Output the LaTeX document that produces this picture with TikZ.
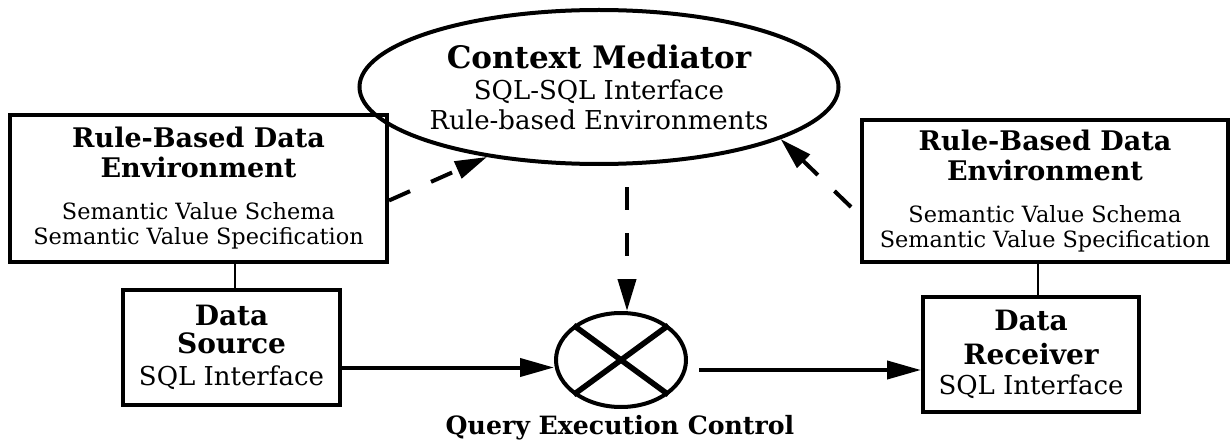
\documentclass[tikz,border=0pt]{standalone}
\usepackage{fontspec}
\setmainfont{DejaVu Serif}
\usetikzlibrary{shapes.geometric,arrows.meta}

\newcommand{\hd}[1]{{\fontsize{13.5}{12.5}\selectfont\bfseries #1}}
\newcommand{\iohd}[1]{{\fontsize{14}{13}\selectfont\bfseries #1}}

\begin{document}
\begin{tikzpicture}[x=0.5pt, y=-0.5pt,
    envbox/.style={draw, line width=2pt, rectangle, align=center, inner sep=0pt,
        font=\fontsize{11.2}{12.5}\selectfont},
    iobox/.style={draw, line width=2pt, rectangle, align=center, inner sep=0pt,
        font=\fontsize{13}{13}\selectfont},
    flow/.style={line width=2pt, -{Triangle[length=17pt,width=9pt]}},
    ctrl/.style={line width=2pt, dash pattern=on 11.5pt off 11.5pt,
        -{Triangle[length=16pt,width=9pt]}},
    link/.style={line width=1.2pt}]
	% fixed frame of the page
	\useasboundingbox (0,0) rectangle (1231,444);

	% mediator on top
	\node[ellipse, draw, line width=2pt, minimum width=207pt, minimum height=77pt,
	      inner sep=0pt, align=center, font=\fontsize{13}{15}\selectfont] (med) at (599,87)
	      {{\fontsize{15.5}{15}\selectfont\bfseries Context Mediator}\\[0.5pt]
	       SQL-SQL Interface\\Rule-based Environments};

	% the two rule-based environments
	\node[envbox, minimum width=188.5pt, minimum height=73.5pt] (lenv) at (198.5,188.5)
	      {\hd{Rule-Based Data}\\[2.5pt]\hd{Environment}\\[8.5pt]
	       Semantic Value Schema\\Semantic Value Specification};
	\node[envbox, minimum width=183pt, minimum height=71pt] (renv) at (1045,191)
	      {\hd{Rule-Based Data}\\[2.5pt]\hd{Environment}\\[8.5pt]
	       Semantic Value Schema\\Semantic Value Specification};

	% source and receiver
	\node[iobox, minimum width=108.5pt, minimum height=57.5pt] (src) at (231.5,347.5)
	      {\iohd{Data}\\[1pt]\iohd{Source}\\[3pt]SQL Interface};
	\node[iobox, minimum width=108pt, minimum height=57.5pt] (rcv) at (1031,354.5)
	      {\iohd{Data}\\[4pt]\iohd{Receiver}\\[2pt]SQL Interface};

	% query execution control
	\node[ellipse, draw, line width=2pt, minimum width=65pt, minimum height=47pt,
	      inner sep=0pt] (q) at (621,360) {};
	\draw[line width=2.8pt] (q.north west) -- (q.south east);
	\draw[line width=2.8pt] (q.south west) -- (q.north east);
	\node[font=\fontsize{12.6}{14}\selectfont\bfseries] (qlbl) at (620,428) {Query Execution Control};

	% links
	\draw[link] (lenv.south -| 235,0) -- (src.north -| 235,0);
	\draw[link] (rcv.north -| 1038,0) -- (renv.south -| 1038,0);

	% data flow
	\coordinate (qout) at (699,370);
	\draw[flow] ([yshift=-10pt]src.east) -- ([yshift=-10pt]src.east -| q.west);
	\draw[flow] (qout) -- (qout -| rcv.west);

	% control
	\draw[ctrl] ([yshift=-6pt]lenv.east) -- (med.212);
	\draw[ctrl] ([xshift=-4.5pt,yshift=-8pt]renv.west) -- (med.344);
	\draw[ctrl] ([xshift=3pt,yshift=-10.5pt]med.south -| q.north) -- ([xshift=3pt]q.north);
\end{tikzpicture}
\end{document}
